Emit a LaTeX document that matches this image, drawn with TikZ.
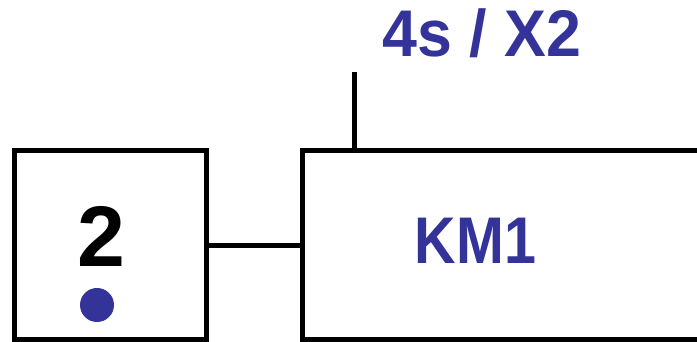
\documentclass[tikz,border=0pt]{standalone}
\usepackage{graphicx}
\usepackage{fontspec}
\setmainfont{Liberation Sans}
\definecolor{grafblue}{HTML}{333399}
\begin{document}
\begin{tikzpicture}[x=1pt,y=1pt,
  boxline/.style={draw=black,line width=5pt},
  bluetext/.style={text=grafblue,font=\fontsize{66}{80}\selectfont\bfseries,inner sep=0pt,anchor=base},
  steptext/.style={text=black,font=\fontsize{86}{100}\selectfont\bfseries,inner sep=0pt,anchor=base}]
\useasboundingbox (0,0) rectangle (697,342);
\clip (0,0) rectangle (697,342);
% step box
\node[boxline,minimum width=192pt,minimum height=189.5pt,inner sep=0pt,outer sep=0pt] (stepbox) at (110.5,96.75) {};
% action box (extends beyond the right edge)
\node[boxline,minimum width=418pt,minimum height=189.5pt,inner sep=0pt,outer sep=0pt] (actbox) at (511,96.75) {};
% link
\draw[line width=5pt] (stepbox.east) -- (actbox.west);
% timing tick
\coordinate (tick) at (354.5,270);
\draw[line width=5.5pt] (tick) -- (tick |- actbox.north);
% texts
\node[steptext] (stepnum) at (101.5,75) {2};
\node[bluetext] (action) at (475.5,78) {\scalebox{0.87}[1]{KM1}};
\node[bluetext] (timing) at (482,285) {\scalebox{0.95}[1]{4s / X2}};
% active token
\fill[grafblue] (97,37) circle (17);
\end{tikzpicture}
\end{document}
